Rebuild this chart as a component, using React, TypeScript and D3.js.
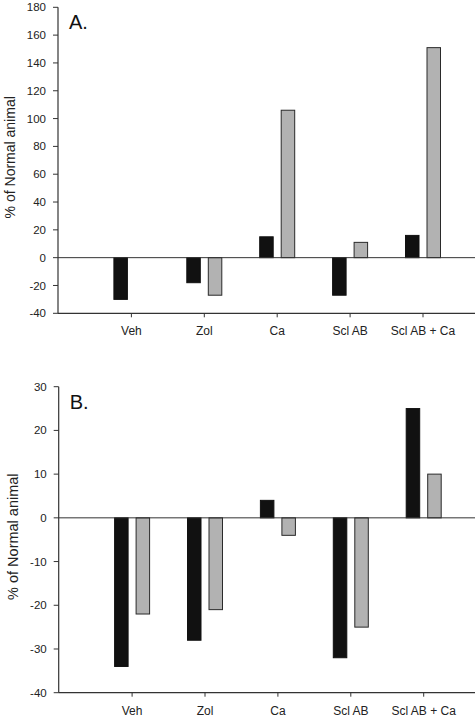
import React from "react";
import * as d3 from "d3";

const categories = ["Veh", "Zol", "Ca", "Scl AB", "Scl AB + Ca"];
const panelAblack: (number | null)[] = [-30, -18, 15, -27, 16];
const panelAgray: (number | null)[] = [null, -27, 106, 11, 151];
const panelBblack: (number | null)[] = [-34, -28, 4, -32, 25];
const panelBgray: (number | null)[] = [-22, -21, -4, -25, 10];
const yTicksA = [-40, -20, 0, 20, 40, 60, 80, 100, 120, 140, 160, 180];
const yTicksB = [-40, -30, -20, -10, 0, 10, 20, 30];
const yLabel = "% of Normal animal";

const W = 475;
const H = 717;
const FONT = "'Liberation Sans', Arial, Helvetica, sans-serif";

type PanelProps = {
  title: string;
  black: (number | null)[];
  gray: (number | null)[];
  ticks: number[];
  axisX: number;
  top: number;
  bottom: number;
  labelX: number;
  labelSize: number;
};

function Panel({ title, black, gray, ticks, axisX, top, bottom, labelX, labelSize }: PanelProps) {
  const y = d3
    .scaleLinear()
    .domain([d3.min(ticks) as number, d3.max(ticks) as number])
    .range([bottom, top]);
  const x = d3
    .scaleLinear()
    .domain([0, categories.length + 1])
    .range([axisX + 0.5, axisX + 0.5 + 72.9 * (categories.length + 1)]);
  const y0 = y(0);
  const barW = 13.5;
  const bar = (v: number | null, x0: number, fill: string, stroke: string, key: string) => {
    if (v === null) return null;
    const yv = y(v);
    return (
      <rect
        key={key}
        x={x0}
        y={Math.min(yv, y0)}
        width={barW}
        height={Math.abs(yv - y0)}
        fill={fill}
        stroke={stroke}
        strokeWidth={1}
      />
    );
  };
  return (
    <g fontFamily={FONT}>
      {categories.map((c, i) => {
        const cx = x(i + 1);
        return (
          <g key={c}>
            {bar(black[i], cx - 17.5, "#111", "#111", "b")}
            {bar(gray[i], cx + 4, "#b2b2b2", "#2a2a2a", "g")}
          </g>
        );
      })}
      {/* zero line */}
      <line x1={axisX} x2={W} y1={y0} y2={y0} stroke="#333" strokeWidth={1} />
      {/* y axis */}
      <line x1={axisX} x2={axisX} y1={top} y2={bottom} stroke="#333" strokeWidth={1.2} />
      {ticks.map((t) => (
        <g key={t} transform={`translate(0,${y(t)})`}>
          <line x1={axisX - 5} x2={axisX} stroke="#333" strokeWidth={1} />
          <text
            x={axisX - 12}
            dy="0.35em"
            textAnchor="end"
            fontSize={11.5}
            fill="#222"
          >
            {t}
          </text>
        </g>
      ))}
      {/* x axis */}
      <line x1={axisX} x2={W} y1={bottom} y2={bottom} stroke="#333" strokeWidth={1.2} />
      {categories.map((c, i) => (
        <g key={c} transform={`translate(${x(i + 1)},${bottom})`}>
          <line y1={0} y2={4} stroke="#333" strokeWidth={1} />
          <text y={22} textAnchor="middle" fontSize={12} fill="#222">
            {c}
          </text>
        </g>
      ))}
      <text x={axisX + 11} y={top + 22} fontSize={20} fill="#111">
        {title}
      </text>
      <text
        transform={`translate(${labelX},${(top + bottom) / 2 - 3}) rotate(-90)`}
        textAnchor="middle"
        fontSize={labelSize}
        fill="#222"
      >
        {yLabel}
      </text>
    </g>
  );
}

export default function App() {
  return (
    <svg
      width={W}
      height={H}
      viewBox={`0 0 ${W} ${H}`}
      style={{ position: "absolute", left: 0, top: 0, background: "#fff" }}
    >
      <rect width={W} height={H} fill="#fff" />
      <Panel
        title="A."
        black={panelAblack}
        gray={panelAgray}
        ticks={yTicksA}
        axisX={58}
        top={7.3}
        bottom={313.3}
        labelX={15}
        labelSize={14}
      />
      <Panel
        title="B."
        black={panelBblack}
        gray={panelBgray}
        ticks={yTicksB}
        axisX={58.7}
        top={386.7}
        bottom={692.7}
        labelX={18}
        labelSize={14.5}
      />
    </svg>
  );
}
